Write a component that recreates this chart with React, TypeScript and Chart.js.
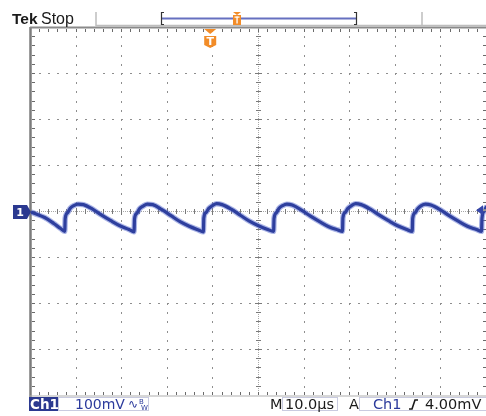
import React, { useEffect, useRef } from "react";
import { Chart, registerables } from "chart.js";

Chart.register(...registerables);

// ---- data (read from the screen capture) ----
// time axis in microseconds (10.0 µs / div, 10 divisions), Ch1 in mV (100 mV / div, 8 divisions)
const xDivUs = [-50, -40, -30, -20, -10, 0, 10, 20, 30, 40, 50];
const yDivmV = [-400, -300, -200, -100, 0, 100, 200, 300, 400];

const timeUs = [
  -50, -49, -47, -45, -43.5, -42.6,
  -42.5, -42.0, -41.4, -40.6, -39.7, -38.5, -36.5, -34.5, -32.5, -30.5, -28.5, -27.4,
  -27.3, -26.8, -26.2, -25.4, -24.5, -23.3, -21.3, -19.3, -17.3, -15.3, -13.3, -12.2,
  -12.1, -11.6, -11.0, -10.2, -9.3, -8.1, -6.1, -4.1, -2.1, -0.1, 1.9, 3.2,
  3.3, 3.8, 4.4, 5.2, 6.1, 7.3, 9.3, 11.3, 13.3, 15.3, 17.3, 18.3,
  18.4, 18.9, 19.5, 20.3, 21.2, 22.4, 24.4, 26.4, 28.4, 30.4, 32.4, 33.6,
  33.7, 34.2, 34.8, 35.6, 36.5, 37.7, 39.7, 41.7, 43.7, 45.7, 47.7, 48.8,
  48.9, 49.4, 49.8, 50,
];
const ch1mV = [
  0, -4, -12, -25, -36, -42,
  -14, -2, 8, 14, 17, 16, 6, -7, -19, -30, -38, -43,
  -15, -3, 7, 13, 17, 16, 5, -8, -21, -31, -39, -43,
  -13, -1, 8, 14, 18, 16, 6, -7, -20, -30, -38, -42,
  -14, -2, 8, 14, 17, 15, 4, -9, -21, -32, -39, -42,
  -13, -1, 8, 14, 18, 16, 6, -7, -19, -30, -38, -42,
  -14, -2, 7, 14, 17, 15, 5, -8, -20, -31, -38, -42,
  -14, 2, 10, 12,
];

const ch1OffsetmV = 0;
const triggerLevelmV = 4;
const triggerTimeUs = -10.7;

const headerLeft = "Tek";
const headerState = "Stop";
const chLabel = "Ch1";
const chScale = "100mV";
const timeLabel = "M";
const timeScale = "10.0µs";
const trigLabel = "A";
const trigSource = "Ch1";
const trigLevelText = "4.00mV";

const BLUE = "#2b3990";
const TEXT_BLUE = "#2b3a9c";
const ORANGE = "#f28c28";

const scopePlugin = {
  id: "scopeDecor",
  beforeDatasetsDraw(chart: any) {
    const { ctx, chartArea: a, scales } = chart;
    const xs = xDivUs.map((v) => scales.x.getPixelForValue(v));
    const ys = yDivmV.map((v) => scales.y.getPixelForValue(v));
    const sx = (xs[1] - xs[0]) / 5;
    const sy = (ys[0] - ys[1]) / 5;
    const cx = scales.x.getPixelForValue(0);
    const cy = scales.y.getPixelForValue(0);
    ctx.save();
    // dotted grid
    ctx.fillStyle = "#8e8e8e";
    xs.forEach((px: number, i: number) => {
      if (i === 0 || i === xs.length - 1 || xDivUs[i] === 0) return;
      for (let k = 1; k < 40; k++) {
        ctx.fillRect(Math.round(px) - 1, Math.round(a.bottom - k * sy) - 1, 1, 2);
      }
    });
    ys.forEach((py: number, i: number) => {
      if (i === 0 || i === ys.length - 1 || yDivmV[i] === 0) return;
      for (let k = 1; k < 50; k++) {
        ctx.fillRect(Math.round(a.left + k * sx) - 1, Math.round(py) - 1, 2, 1);
      }
    });
    // center cross lines
    ctx.fillStyle = "#a8a8a8";
    for (let p = a.left; p < a.right; p += 2) ctx.fillRect(Math.round(p), Math.round(cy) - 1, 1, 1);
    for (let p = a.top; p < a.bottom; p += 2) ctx.fillRect(Math.round(cx) - 1, Math.round(p), 1, 1);
    ctx.fillStyle = "#7a7a7a";
    for (let k = 1; k < 50; k++) {
      const px = Math.round(a.left + k * sx);
      const big = k % 5 === 0 ? 3 : 2;
      ctx.fillRect(px - 1, Math.round(cy) - 1 - big, 1, 2 * big + 1);
    }
    for (let k = 1; k < 40; k++) {
      const py = Math.round(a.bottom - k * sy);
      const big = k % 5 === 0 ? 3 : 2;
      ctx.fillRect(Math.round(cx) - 1 - big, py - 1, 2 * big + 1, 1);
    }
    // border ticks
    ctx.fillStyle = "#6a6a6a";
    for (let k = 1; k < 50; k++) {
      const px = Math.round(a.left + k * sx);
      ctx.fillRect(px - 1, Math.round(a.top) + 1, 1, 3);
      ctx.fillRect(px - 1, Math.round(a.bottom) - 4, 1, 3);
    }
    for (let k = 1; k < 40; k++) {
      const py = Math.round(a.bottom - k * sy);
      ctx.fillRect(Math.round(a.left) + 1, py - 1, 3, 1);
      ctx.fillRect(Math.round(a.right) - 4, py - 1, 3, 1);
    }
    // borders
    ctx.strokeStyle = "#7c7c7c";
    ctx.lineWidth = 2.5;
    ctx.beginPath();
    ctx.moveTo(a.left - 0.5, a.bottom + 1);
    ctx.lineTo(a.left - 0.5, a.top - 1);
    ctx.stroke();
    ctx.lineWidth = 2;
    ctx.strokeStyle = "#8a8a8a";
    ctx.beginPath();
    ctx.moveTo(a.left - 1, a.top - 0.5);
    ctx.lineTo(a.right, a.top - 0.5);
    ctx.stroke();
    ctx.lineWidth = 1.2;
    ctx.strokeStyle = "#b0b0b0";
    ctx.beginPath();
    ctx.moveTo(a.left - 1, a.bottom);
    ctx.lineTo(a.right, a.bottom);
    ctx.moveTo(a.right, a.top);
    ctx.lineTo(a.right, a.bottom);
    ctx.stroke();
    ctx.restore();
  },
  afterDatasetsDraw(chart: any) {
    const { ctx, chartArea: a, scales } = chart;
    ctx.save();
    // channel 1 ground marker
    const gy = Math.round(scales.y.getPixelForValue(ch1OffsetmV));
    ctx.fillStyle = BLUE;
    ctx.beginPath();
    ctx.moveTo(13, gy - 7);
    ctx.lineTo(27, gy - 7);
    ctx.lineTo(31, gy);
    ctx.lineTo(27, gy + 7);
    ctx.lineTo(13, gy + 7);
    ctx.closePath();
    ctx.fill();
    ctx.fillStyle = "#ffffff";
    ctx.font = 'bold 11px "DejaVu Sans"';
    ctx.textAlign = "center";
    ctx.textBaseline = "middle";
    ctx.fillText("1", 20, gy + 1);
    // trigger level arrow (right)
    const ty = scales.y.getPixelForValue(triggerLevelmV);
    ctx.fillStyle = "#3646a8";
    ctx.beginPath();
    ctx.moveTo(476, ty);
    ctx.lineTo(483, ty - 5);
    ctx.lineTo(483, ty + 5);
    ctx.closePath();
    ctx.fill();
    ctx.fillStyle = "#9a9a9a";
    ctx.fillRect(483, ty - 1, 4, 2);
    // trigger position marker (top)
    const tx = scales.x.getPixelForValue(triggerTimeUs);
    ctx.fillStyle = ORANGE;
    ctx.beginPath();
    ctx.moveTo(tx - 6, a.top + 1);
    ctx.lineTo(tx + 6, a.top + 1);
    ctx.lineTo(tx, a.top + 6);
    ctx.closePath();
    ctx.fill();
    ctx.beginPath();
    ctx.moveTo(tx - 6, a.top + 8);
    ctx.lineTo(tx + 6, a.top + 8);
    ctx.lineTo(tx + 6, a.top + 17);
    ctx.lineTo(tx, a.top + 20);
    ctx.lineTo(tx - 6, a.top + 17);
    ctx.closePath();
    ctx.fill();
    ctx.fillStyle = "#ffffff";
    ctx.font = 'bold 11px "DejaVu Sans"';
    ctx.fillText("T", tx, a.top + 14);
    ctx.restore();
  },
  afterDraw(chart: any) {
    const { ctx } = chart;
    ctx.save();
    // header
    ctx.textAlign = "left";
    ctx.textBaseline = "alphabetic";
    ctx.fillStyle = "#1a1a1a";
    ctx.font = 'bold 15.5px "Liberation Sans"';
    ctx.fillText(headerLeft, 12, 24);
    ctx.font = '16px "Liberation Sans"';
    ctx.fillText(headerState, 41, 24);
    ctx.strokeStyle = "#bdbdbd";
    ctx.lineWidth = 1.5;
    ctx.beginPath();
    ctx.moveTo(96, 12);
    ctx.lineTo(96, 26);
    ctx.moveTo(96, 25.5);
    ctx.lineTo(488, 25.5);
    ctx.moveTo(422, 12);
    ctx.lineTo(422, 26);
    ctx.stroke();
    // record bar
    ctx.strokeStyle = "#6670c0";
    ctx.lineWidth = 2;
    ctx.beginPath();
    ctx.moveTo(162, 18.5);
    ctx.lineTo(356, 18.5);
    ctx.stroke();
    ctx.strokeStyle = "#333333";
    ctx.lineWidth = 1.2;
    ctx.beginPath();
    ctx.moveTo(164, 12.5);
    ctx.lineTo(161.5, 12.5);
    ctx.lineTo(161.5, 24.5);
    ctx.lineTo(164, 24.5);
    ctx.moveTo(354, 12.5);
    ctx.lineTo(356.5, 12.5);
    ctx.lineTo(356.5, 24.5);
    ctx.lineTo(354, 24.5);
    ctx.stroke();
    ctx.fillStyle = ORANGE;
    ctx.beginPath();
    ctx.moveTo(233, 12);
    ctx.lineTo(241, 12);
    ctx.lineTo(237, 15);
    ctx.closePath();
    ctx.fill();
    ctx.fillRect(233, 15, 8, 10);
    ctx.fillStyle = "#ffffff";
    ctx.fillRect(234.5, 16.5, 5, 1.2);
    ctx.fillRect(236.4, 16.5, 1.3, 7);
    // status bar
    ctx.fillStyle = BLUE;
    ctx.fillRect(29, 397, 29, 14);
    ctx.strokeStyle = "#c9cbe0";
    ctx.lineWidth = 1;
    ctx.strokeRect(58.5, 397.5, 90, 13);
    ctx.strokeRect(282.5, 397.5, 55, 13);
    ctx.strokeRect(359.5, 397.5, 130, 13);
    ctx.font = 'bold 13.5px "DejaVu Sans"';
    ctx.fillStyle = "#ffffff";
    ctx.fillText(chLabel, 30, 409);
    ctx.font = '14px "DejaVu Sans"';
    ctx.fillStyle = TEXT_BLUE;
    ctx.fillText(chScale, 75, 409);
    ctx.font = '12px "DejaVu Sans"';
    ctx.fillText("∿", 128, 408);
    ctx.font = '7px "DejaVu Sans"';
    ctx.fillText("B", 139, 404);
    ctx.fillText("W", 141, 410);
    ctx.font = '14.5px "DejaVu Sans"';
    ctx.fillStyle = "#1a1a1a";
    ctx.fillText(timeLabel, 270, 409);
    ctx.fillText(timeScale, 285, 409);
    ctx.fillText(trigLabel, 349, 409);
    ctx.fillStyle = TEXT_BLUE;
    ctx.fillText(trigSource, 373, 409);
    ctx.fillStyle = "#1a1a1a";
    ctx.fillText(trigLevelText, 425, 409);
    ctx.strokeStyle = "#1a1a1a";
    ctx.lineWidth = 1.6;
    ctx.beginPath();
    ctx.moveTo(409, 409);
    ctx.lineTo(412, 409);
    ctx.lineTo(415, 400);
    ctx.lineTo(418, 400);
    ctx.stroke();
    ctx.restore();
  },
};

export default function App() {
  const ref = useRef<HTMLCanvasElement | null>(null);
  useEffect(() => {
    document.body.style.margin = "0";
    document.body.style.overflow = "hidden";
    const pts = timeUs.map((t, i) => ({ x: t, y: ch1mV[i] }));
    const chart = new Chart(ref.current as HTMLCanvasElement, {
      type: "line",
      data: {
        datasets: [
          {
            label: "Ch1 core",
            data: pts,
            borderColor: "#2e3f9e",
            borderWidth: 3.2,
            pointRadius: 0,
            cubicInterpolationMode: "monotone",
          },
          {
            label: "Ch1 halo",
            data: pts,
            borderColor: "rgba(85,105,205,0.5)",
            borderWidth: 5.5,
            pointRadius: 0,
            cubicInterpolationMode: "monotone",
          },
        ],
      },
      options: {
        responsive: false,
        devicePixelRatio: 1,
        animation: false,
        layout: { padding: { left: 31, right: 1, top: 28, bottom: 20 } },
        plugins: { legend: { display: false }, tooltip: { enabled: false } },
        scales: {
          x: { type: "linear", min: -50, max: 50, display: false },
          y: { type: "linear", min: -400, max: 400, display: false },
        },
      },
      plugins: [scopePlugin],
    } as any);
    return () => chart.destroy();
  }, []);
  return (
    <div style={{ position: "fixed", left: 0, top: 0, width: 486, height: 416, overflow: "hidden", background: "#fff" }}>
      <canvas ref={ref} width={488} height={416} style={{ display: "block" }} />
    </div>
  );
}
